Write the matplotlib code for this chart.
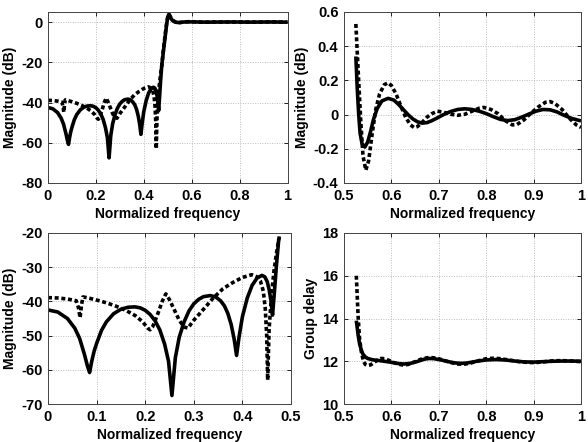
import numpy as np
import matplotlib
matplotlib.use("Agg")
import matplotlib.pyplot as plt

# ---- stopband magnitude (dB), 0 .. ~0.475 ----
f_stop_solid = [0.0, 0.02, 0.04, 0.055, 0.065, 0.075, 0.081, 0.0856, 0.09, 0.095, 0.1, 0.11, 0.12,
                0.135, 0.15, 0.165, 0.179, 0.19, 0.2, 0.21, 0.22, 0.23, 0.24, 0.248, 0.255,
                0.262, 0.27, 0.28, 0.29, 0.3, 0.31, 0.32, 0.334, 0.345, 0.355, 0.363, 0.37,
                0.377, 0.383, 0.388, 0.393, 0.4, 0.41, 0.42, 0.43, 0.44, 0.446, 0.451, 0.455,
                0.459, 0.462, 0.466, 0.47, 0.475]
mag_stop_solid = [-42.5, -43.1, -45.0, -47.8, -50.8, -55.5, -58.8, -60.8, -57.5, -54.5, -52.3, -48.5, -46.0,
                  -43.6, -42.3, -41.7, -41.6, -41.9, -42.6, -43.8, -45.6, -48.3, -52.5, -57.5, -67.5,
                  -56.5, -50.5, -46.0, -42.8, -40.7, -39.4, -38.6, -38.3, -38.7, -39.8, -41.3, -43.5,
                  -46.8, -51.0, -55.8, -50.5, -44.5, -39.0, -35.3, -33.2, -32.4, -32.8, -34.2, -36.5,
                  -40.0, -44.0, -37.0, -29.5, -21.5]

f_stop_dash = [0.0, 0.02, 0.04, 0.058, 0.063, 0.066, 0.069, 0.072, 0.08, 0.1, 0.12, 0.14, 0.16,
               0.18, 0.195, 0.205, 0.21, 0.215, 0.225, 0.235, 0.2425, 0.25, 0.26, 0.27, 0.28,
               0.288, 0.3, 0.32, 0.34, 0.36, 0.38, 0.4, 0.419, 0.43, 0.437, 0.443, 0.447,
               0.45, 0.452, 0.455, 0.46, 0.465, 0.47, 0.476]
mag_stop_dash = [-38.9, -39.0, -39.3, -39.8, -42.0, -44.8, -41.0, -38.7, -38.9, -39.6, -40.4, -41.4, -42.6,
                 -44.2, -46.0, -47.8, -48.3, -47.5, -44.0, -40.0, -37.8, -39.5, -42.5, -45.5, -47.5,
                 -47.8, -45.5, -42.3, -39.0, -36.3, -34.5, -33.0, -32.2, -32.8, -34.0, -37.0, -42.0,
                 -50.0, -63.0, -48.0, -38.0, -31.0, -26.0, -21.0]

# ---- transition band (dB) ----
f_trans = [0.48, 0.485, 0.49, 0.495, 0.5, 0.505, 0.51, 0.515, 0.52]
mag_trans_solid = [-16.5, -11.5, -6.5, -1.5, 2.5, 4.0, 2.8, 1.5, 0.8]
mag_trans_dash = [-15.5, -10.5, -5.5, -1.0, 2.5, 3.8, 2.8, 1.8, 1.0]

# ---- passband magnitude (dB), 0.525 .. 1 ----
f_pass_solid = [0.525, 0.528, 0.531, 0.534, 0.538, 0.544, 0.55, 0.556, 0.562, 0.57, 0.58, 0.593,
                0.605, 0.615, 0.625, 0.635, 0.645, 0.655, 0.665, 0.675, 0.685, 0.695, 0.71,
                0.725, 0.74, 0.755, 0.77, 0.785, 0.8, 0.815, 0.83, 0.845, 0.86, 0.875, 0.89,
                0.905, 0.92, 0.935, 0.95, 0.965, 0.98, 1.0]
mag_pass_solid = [0.34, 0.15, 0.0, -0.11, -0.17, -0.19, -0.16, -0.10, -0.03, 0.035, 0.08, 0.095,
                  0.085, 0.06, 0.03, 0.0, -0.025, -0.042, -0.05, -0.047, -0.036, -0.022, 0.0,
                  0.018, 0.03, 0.034, 0.03, 0.02, 0.006, -0.012, -0.028, -0.035, -0.03, -0.015, 0.003,
                  0.02, 0.03, 0.028, 0.015, -0.005, -0.022, -0.037]

f_pass_dash = [0.525, 0.53, 0.535, 0.54, 0.546, 0.552, 0.56, 0.567, 0.575, 0.585, 0.593, 0.6,
               0.61, 0.62, 0.63, 0.64, 0.648, 0.655, 0.665, 0.675, 0.685, 0.697, 0.71, 0.725,
               0.74, 0.755, 0.77, 0.785, 0.795, 0.81, 0.825, 0.84, 0.855, 0.865, 0.88, 0.895,
               0.91, 0.925, 0.935, 0.945, 0.96, 0.975, 0.99, 1.0]
mag_pass_dash = [0.53, 0.25, -0.02, -0.24, -0.325, -0.27, -0.10, 0.03, 0.12, 0.175, 0.186, 0.17,
                 0.12, 0.05, -0.015, -0.06, -0.076, -0.07, -0.045, -0.015, 0.005, 0.02, 0.014, 0.002,
                 -0.004, 0.002, 0.02, 0.037, 0.042, 0.03, 0.005, -0.035, -0.06, -0.058, -0.03, 0.01,
                 0.045, 0.072, 0.076, 0.065, 0.03, -0.02, -0.06, -0.075]

# ---- group delay ----
f_gd_solid = [0.526, 0.53, 0.533, 0.537, 0.54, 0.545, 0.55, 0.56, 0.571, 0.585, 0.6, 0.615, 0.627,
              0.64, 0.655, 0.67, 0.68, 0.69, 0.705, 0.72, 0.735, 0.748, 0.76, 0.78, 0.8, 0.82,
              0.84, 0.86, 0.88, 0.9, 0.92, 0.94, 0.96, 0.98, 1.0]
gd_solid = [13.9, 13.2, 12.8, 12.5, 12.33, 12.2, 12.13, 12.07, 12.04, 12.0, 11.95, 11.89, 11.87,
            11.9, 11.99, 12.1, 12.13, 12.12, 12.06, 11.98, 11.92, 11.9, 11.92, 12.0, 12.06, 12.08,
            12.06, 12.01, 11.97, 11.96, 11.98, 12.0, 12.01, 12.01, 12.0]

f_gd_dash = [0.526, 0.528, 0.53, 0.533, 0.537, 0.541, 0.545, 0.55, 0.556, 0.563, 0.57, 0.578, 0.586,
             0.595, 0.605, 0.615, 0.625, 0.635, 0.65, 0.665, 0.68, 0.695, 0.71, 0.725, 0.74, 0.752,
             0.765, 0.78, 0.8, 0.815, 0.83, 0.85, 0.87, 0.89, 0.905, 0.92, 0.94, 0.96, 0.98, 1.0]
gd_dash = [16.0, 15.0, 14.0, 13.0, 12.4, 12.0, 11.85, 11.8, 11.83, 11.93, 12.05, 12.13, 12.12,
           12.04, 11.94, 11.86, 11.82, 11.85, 11.98, 12.12, 12.18, 12.15, 12.05, 11.94, 11.87, 11.86,
           11.9, 12.0, 12.12, 12.14, 12.12, 12.05, 11.98, 11.94, 11.94, 11.97, 12.02, 12.03, 12.01, 11.98]

plt.rcParams.update({
    "font.family": "Liberation Sans", "font.weight": "bold", "font.size": 10,
    "axes.unicode_minus": False, "axes.linewidth": 0.7, "axes.edgecolor": "#444444",
})

SOLID = dict(color="black", linewidth=2.6, solid_capstyle="butt", solid_joinstyle="round")
DASH = dict(color="black", linewidth=2.6, linestyle=(0, (1.1, 0.75)), dash_capstyle="butt")

fig = plt.figure(figsize=(5.88, 4.42), dpi=100)

def style_ax(ax, xt, xl, yt, yl, xlim, ylim, ylabel):
    ax.set_xlim(*xlim)
    ax.set_ylim(*ylim)
    ax.set_xticks(xt)
    ax.set_xticklabels(xl, fontweight="bold")
    ax.set_yticks(yt)
    ax.set_yticklabels(yl, fontweight="bold")
    ax.grid(True, color="#bdbdbd", linestyle=(0, (1, 1.5)), linewidth=0.7)
    ax.set_axisbelow(True)
    ax.tick_params(direction="in", length=3, width=0.6, top=True, right=True, pad=4, labelsize=10.5)
    ax.set_xlabel("Normalized frequency", fontweight="bold", fontsize=10, labelpad=3)
    ax.set_ylabel(ylabel, fontweight="bold", fontsize=10, labelpad=3)

# top-left: full response
ax1 = fig.add_axes([48/588, 1-183/442, 239.5/588, 171/442])
ax1.plot(f_stop_solid + f_trans + f_pass_solid, mag_stop_solid + mag_trans_solid + mag_pass_solid, **SOLID)
ax1.plot(f_stop_dash + f_trans + f_pass_dash, mag_stop_dash + mag_trans_dash + mag_pass_dash, **DASH)
style_ax(ax1, [0, 0.2, 0.4, 0.6, 0.8, 1], ["0", "0.2", "0.4", "0.6", "0.8", "1"],
         [-80, -60, -40, -20, 0], ["-80", "-60", "-40", "-20", "0"], (0, 1), (-80, 5), "Magnitude (dB)")

# top-right: passband
ax2 = fig.add_axes([344/588, 1-183/442, 237/588, 171/442])
ax2.plot(f_pass_solid, mag_pass_solid, **SOLID)
ax2.plot(f_pass_dash, mag_pass_dash, **DASH)
style_ax(ax2, [0.5, 0.6, 0.7, 0.8, 0.9, 1], ["0.5", "0.6", "0.7", "0.8", "0.9", "1"],
         [-0.4, -0.2, 0, 0.2, 0.4, 0.6], ["-0.4", "-0.2", "0", "0.2", "0.4", "0.6"],
         (0.5, 1), (-0.4, 0.6), "Magnitude (dB)")

# bottom-left: stopband
ax3 = fig.add_axes([48/588, 1-404/442, 243/588, 171/442])
ax3.plot(f_stop_solid, mag_stop_solid, **SOLID)
ax3.plot(f_stop_dash, mag_stop_dash, **DASH)
style_ax(ax3, [0, 0.1, 0.2, 0.3, 0.4, 0.5], ["0", "0.1", "0.2", "0.3", "0.4", "0.5"],
         [-70, -60, -50, -40, -30, -20], ["-70", "-60", "-50", "-40", "-30", "-20"],
         (0, 0.5), (-70, -20), "Magnitude (dB)")

# bottom-right: group delay
ax4 = fig.add_axes([344/588, 1-404/442, 237/588, 171/442])
ax4.plot(f_gd_solid, gd_solid, **SOLID)
ax4.plot(f_gd_dash, gd_dash, **DASH)
style_ax(ax4, [0.5, 0.6, 0.7, 0.8, 0.9, 1], ["0.5", "0.6", "0.7", "0.8", "0.9", "1"],
         [10, 12, 14, 16, 18], ["10", "12", "14", "16", "18"], (0.5, 1), (10, 18), "Group delay")

plt.savefig("out.png", dpi=100)
